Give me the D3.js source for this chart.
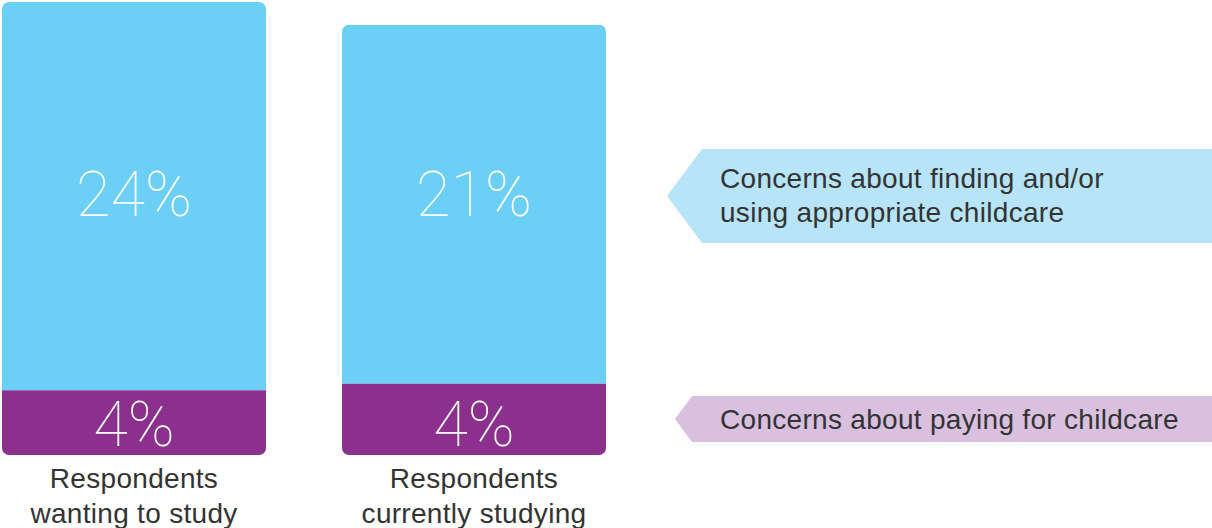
<!DOCTYPE html>
<html>
<head>
<meta charset="utf-8">
<script src="https://cdn.jsdelivr.net/npm/d3@7"></script>
<style>
  html, body { margin: 0; padding: 0; background: #fff; }
  svg { display: block; }
</style>
</head>
<body>
<svg id="chart" width="1212" height="528"></svg>
<script>
// data
const categories = ["Respondents\nwanting to study", "Respondents\ncurrently studying"];
const childcareValues = [24, 22.2];   // bar length as drawn
const payingValues = [4, 4.4];
const childcareLabels = ["24%", "21%"];
const payingLabels = ["4%", "4%"];
const calloutTexts = ["Concerns about finding and/or\nusing appropriate childcare", "Concerns about paying for childcare"];

const blue = "#6ccff6", purple = "#8b318d";
const lightBlue = "#b7e4f8", lightPurple = "#d9c0df";

let svg = d3.select("#chart");

let x = d3.scaleBand().domain(categories).range([2, 606]).paddingInner(76 / 340).paddingOuter(0);
let y = d3.scaleLinear().domain([0, 28]).range([455, 2]);

let rows = categories.map(function(c, i){
    return {cat: c, blue: childcareValues[i], purple: payingValues[i], bl: childcareLabels[i], pl: payingLabels[i]};
});

let defs = svg.append("defs");
rows.forEach(function(d, i){
    defs.append("clipPath").attr("id", "barclip" + i)
        .append("rect")
        .attr("x", x(d.cat))
        .attr("y", y(d.blue + d.purple))
        .attr("width", x.bandwidth())
        .attr("height", y(0) - y(d.blue + d.purple))
        .attr("rx", 7).attr("ry", 7);
});

let bars = svg.append("g").selectAll("g")
    .data(rows)
    .enter()
    .append("g")
    .attr("clip-path", (d, i) => "url(#barclip" + i + ")");

bars.append("rect")
    .attr("x", d => x(d.cat))
    .attr("y", d => y(d.blue + d.purple))
    .attr("width", x.bandwidth())
    .attr("height", d => y(d.purple) - y(d.blue + d.purple))
    .style("fill", blue);

bars.append("rect")
    .attr("x", d => x(d.cat))
    .attr("y", d => y(d.purple))
    .attr("width", x.bandwidth())
    .attr("height", d => y(0) - y(d.purple))
    .style("fill", purple);

let bigFont = "Roboto, 'Liberation Sans', sans-serif";
let textFont = "'Liberation Sans', Arial, sans-serif";

svg.append("g").selectAll("text")
    .data(rows)
    .enter()
    .append("text")
    .attr("x", d => x(d.cat) + x.bandwidth() / 2)
    .attr("y", 194)
    .attr("dy", "0.35em")
    .style("text-anchor", "middle")
    .style("font-family", bigFont)
    .style("font-weight", 100)
    .style("font-size", "63px")
    .style("fill", "#fff")
    .text(d => d.bl);

svg.append("g").selectAll("text")
    .data(rows)
    .enter()
    .append("text")
    .attr("x", d => x(d.cat) + x.bandwidth() / 2)
    .attr("y", 424)
    .attr("dy", "0.35em")
    .style("text-anchor", "middle")
    .style("font-family", bigFont)
    .style("font-weight", 100)
    .style("font-size", "63px")
    .style("fill", "#fff")
    .text(d => d.pl);

// category labels under the bars
let catLabels = svg.append("g").selectAll("text")
    .data(rows)
    .enter()
    .append("text")
    .attr("x", d => x(d.cat) + x.bandwidth() / 2)
    .attr("y", 488)
    .style("text-anchor", "middle")
    .style("font-family", textFont)
    .style("font-size", "28px")
    .style("letter-spacing", "0.3px")
    .style("fill", "#333");
catLabels.selectAll("tspan")
    .data(d => d.cat.split("\n"))
    .enter()
    .append("tspan")
    .attr("x", function(){ return d3.select(this.parentNode).attr("x"); })
    .attr("dy", (d, i) => i == 0 ? 0 : "1.24em")
    .text(d => d);

// callout arrows on the right
let callouts = [
    {text: calloutTexts[0], fill: lightBlue, tip: 667, shoulder: 702, top: 149, bottom: 243},
    {text: calloutTexts[1], fill: lightPurple, tip: 675, shoulder: 692, top: 396, bottom: 442}
];

let co = svg.append("g").selectAll("g")
    .data(callouts)
    .enter()
    .append("g");

co.append("path")
    .attr("d", function(d){
        let mid = (d.top + d.bottom) / 2;
        return "M" + d.tip + "," + mid + "L" + d.shoulder + "," + d.top + "L1212," + d.top +
            "L1212," + d.bottom + "L" + d.shoulder + "," + d.bottom + "Z";
    })
    .style("fill", d => d.fill);

let coText = co.append("text")
    .attr("x", 720)
    .attr("y", function(d){
        let n = d.text.split("\n").length;
        return (d.top + d.bottom) / 2 - (n - 1) * 17.5;
    })
    .style("font-family", textFont)
    .style("font-size", "28px")
    .style("letter-spacing", "0.3px")
    .style("fill", "#333");
coText.selectAll("tspan")
    .data(d => d.text.split("\n"))
    .enter()
    .append("tspan")
    .attr("x", 720)
    .attr("dy", (d, i) => i == 0 ? "0.35em" : "1.22em")
    .text(d => d);
</script>
</body>
</html>
